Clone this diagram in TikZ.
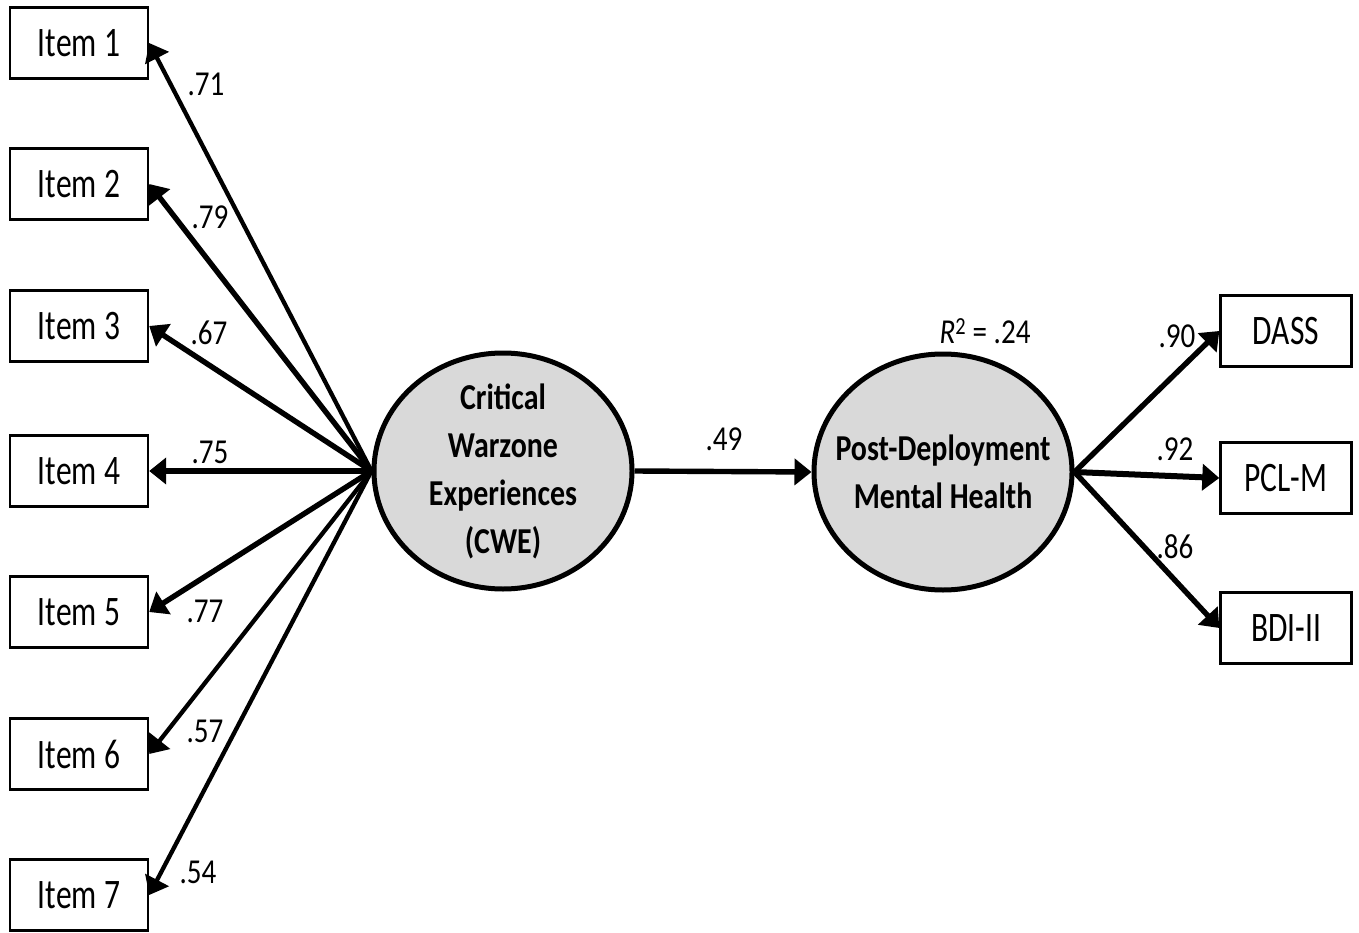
\documentclass[tikz,border=0pt]{standalone}
\usepackage{fontspec}
\setmainfont{Carlito}
\newfontfamily\fitem{Carlito}[FakeStretch=0.75]
\newfontfamily\flab{Carlito}[FakeStretch=0.83]
\newfontfamily\fbold{Carlito}[FakeStretch=0.82]
\usetikzlibrary{arrows.meta,shapes.geometric}
\definecolor{latgray}{RGB}{217,217,217}
\tikzset{
  obs/.style={draw=black, line width=2.4pt, minimum width=138pt, minimum height=71pt, inner sep=0pt, font=\fitem\fontsize{42}{50}\selectfont},
  obsr/.style={obs, minimum width=131pt},
  lat/.style={draw=black, line width=5pt, fill=latgray, ellipse, minimum width=258pt, minimum height=236pt, inner xsep=-20pt, inner ysep=-20pt, align=center, font=\fbold\bfseries\fontsize{36.5}{48}\selectfont},
  coef/.style={inner sep=0pt, font=\flab\fontsize{35}{40}\selectfont},
  path/.style={line width=5.4pt, -{Triangle[length=17pt,width=26pt]}},
  thinpath/.style={path, line width=4.3pt},
  heavypath/.style={path, line width=6pt},
}
\begin{document}
\begin{tikzpicture}[x=1pt,y=-1pt]
\useasboundingbox (0,0) rectangle (1359,933);
% observed items
\node[obs] (i1) at (79,43) {Item 1};
\node[obs] (i2) at (79,184) {Item 2};
\node[obs] (i3) at (79,326) {Item 3};
\node[obs] (i4) at (79,471) {Item 4};
\node[obs] (i5) at (79,612) {Item 5};
\node[obs] (i6) at (79,754) {Item 6};
\node[obs] (i7) at (79,895) {Item 7};
% latent
\node[lat] (cwe) at (503,471) {Critical\\Warzone\\Experiences\\(CWE)};
\node[lat] (pdmh) at (943,472) {Post-Deployment\\Mental Health};
% outcomes
\node[obsr] (dass) at (1286,331) {DASS};
\node[obsr] (pcl) at (1286,478) {PCL-M};
\node[obsr] (bdi) at (1286,628) {BDI-II};
% connectors
\draw[thinpath] (cwe.west) -- (i1.east);
\draw[path] (cwe.west) -- (i2.east);
\draw[path] (cwe.west) -- (i3.east);
\draw[heavypath] (cwe.west) -- (i4.east);
\draw[path] (cwe.west) -- (i5.east);
\draw[thinpath] (cwe.west) -- (i6.east);
\draw[thinpath] (cwe.west) -- (i7.east);
\draw[path] (cwe.east) -- (pdmh.west);
\draw[path] (pdmh.east) -- (dass.west);
\draw[heavypath] (pdmh.east) -- (pcl.west);
\draw[path] (pdmh.east) -- (bdi.west);
% coefficients
\node[coef] (c1) at (206,84) {.71};
\node[coef] (c2) at (210,217) {.79};
\node[coef] (c3) at (209,333) {.67};
\node[coef] (c4) at (210,452) {.75};
\node[coef] (c5) at (205,611) {.77};
\node[coef] (c6) at (205,731) {.57};
\node[coef] (c7) at (198,872) {.54};
\node[coef] (c8) at (724,439) {.49};
\node[coef] (c9) at (1177,336) {.90};
\node[coef] (c10) at (1175,449) {.92};
\node[coef] (c11) at (1175,547) {.86};
\node[coef] (r2) at (985,331) {\textit{R}\textsuperscript{2} = .24};
\end{tikzpicture}
\end{document}
